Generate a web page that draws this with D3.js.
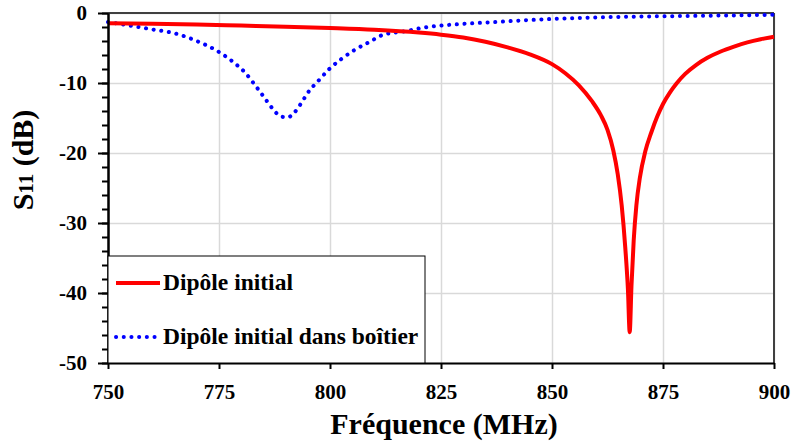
<!DOCTYPE html>
<html>
<head>
<meta charset="utf-8">
<script src="https://cdn.jsdelivr.net/npm/d3@7"></script>
<style>
  body { margin: 0; background: #fff; }
  .grid line { stroke: #d9d9d9; stroke-width: 1.5; }
  .grid path { display: none; }
  .axis path, .axis line { stroke: #000; stroke-width: 2; }
</style>
</head>
<body>
<script>
// Dipôle initial (red)
var freqDipole = [750, 760, 770, 780, 790, 800, 810, 820, 825, 830, 835, 840, 845, 850, 853, 856, 859, 861, 862.5, 863.8, 864.8, 865.7, 866.5, 867.1, 867.5, 867.9, 868.4, 869, 869.8, 871, 872.4, 873.7, 875, 876.5, 878, 880, 882.5, 885, 888, 891, 894, 897, 900];
var s11Dipole = [-1.45, -1.55, -1.65, -1.8, -1.95, -2.15, -2.4, -2.8, -3.1, -3.5, -4.1, -4.9, -5.9, -7.3, -8.6, -10.3, -12.6, -14.6, -16.7, -19.6, -23, -27.5, -33.5, -39.5, -45.6, -39, -32.5, -27.5, -23.5, -19.8, -17, -14.8, -13, -11.4, -10.1, -8.7, -7.4, -6.4, -5.5, -4.8, -4.2, -3.75, -3.4];

// Dipôle initial dans boîtier (blue dotted)
var freqBoitier = [750, 755, 760, 765, 770, 774, 778, 781, 783, 785, 787, 789, 790.5, 792, 793.5, 795, 797.5, 800, 802.5, 805.5, 809, 812, 817, 821, 825, 830, 837, 845, 850, 862, 877, 890, 900];
var s11Boitier = [-1.3, -1.8, -2.35, -2.9, -4.0, -5.2, -6.9, -8.6, -10.2, -11.9, -13.6, -14.8, -14.9, -14.2, -12.9, -11.4, -9.6, -7.9, -6.6, -5.3, -4.1, -3.1, -2.6, -2.1, -1.8, -1.55, -1.3, -1.0, -0.85, -0.6, -0.45, -0.35, -0.25];

var xTicks = [750, 775, 800, 825, 850, 875, 900];
var yTicks = [0, -10, -20, -30, -40, -50];
var yMinor = d3.range(0, -51, -2);
var seriesNames = ["Dipôle initial", "Dipôle initial dans boîtier"];

var FONT = "'Liberation Serif'";

var margin = {top: 13, right: 18, bottom: 82, left: 108},
    width = 792 - margin.left - margin.right,
    height = 445 - margin.top - margin.bottom;

var x = d3.scaleLinear().domain([750, 900]).range([0, width]);
var y = d3.scaleLinear().domain([-50, 0]).range([height, 0]);

var svg = d3.select("body")
    .append("svg")
        .attr("width", 792)
        .attr("height", 445)
    .append("g")
        .attr("transform", "translate(" + margin.left + "," + margin.top + ")");

// grid lines
svg.append("g")
    .attr("class", "grid")
    .call(d3.axisBottom(x).tickValues(xTicks).tickSize(height).tickFormat(""));
svg.append("g")
    .attr("class", "grid")
    .call(d3.axisLeft(y).tickValues(yTicks).tickSize(-width).tickFormat(""));

// top and right frame
svg.append("line").attr("x1", 0).attr("x2", width).attr("y1", 0).attr("y2", 0)
    .style("stroke", "#404040").style("stroke-width", 2);
svg.append("line").attr("x1", width).attr("x2", width).attr("y1", 0).attr("y2", height)
    .style("stroke", "#404040").style("stroke-width", 2);

var line = d3.line()
    .x(function(d) { return x(d[0]); })
    .y(function(d) { return y(d[1]); })
    .curve(d3.curveMonotoneX);

var dipole = d3.zip(freqDipole, s11Dipole);
var boitier = d3.zip(freqBoitier, s11Boitier);

svg.append("path")
    .attr("d", line(boitier))
    .style("fill", "none")
    .style("stroke", "#0000ff")
    .style("stroke-width", 4)
    .style("stroke-linecap", "round")
    .style("stroke-dasharray", "0.1 7.6");

svg.append("path")
    .attr("d", line(dipole))
    .style("fill", "none")
    .style("stroke", "#ff0000")
    .style("stroke-width", 4)
    .style("stroke-linejoin", "round");

// axes
var xAxis = svg.append("g")
    .attr("class", "axis")
    .attr("transform", "translate(0," + height + ")")
    .call(d3.axisBottom(x).tickValues(xTicks).tickSize(6).tickSizeOuter(0).tickPadding(15));
xAxis.selectAll("text").style("font-size", "21px");

svg.append("g")
    .attr("class", "axis")
    .call(d3.axisLeft(y).tickValues(yMinor).tickSize(6).tickSizeOuter(0).tickFormat(""));

var yAxis = svg.append("g")
    .attr("class", "axis")
    .call(d3.axisLeft(y).tickValues(yTicks).tickSize(10).tickSizeOuter(0).tickPadding(11)
        .tickFormat(function(d) { return String(d); }));
yAxis.selectAll("text").style("font-size", "21px");

// axis titles
svg.append("text")
    .attr("x", width / 2 + 3)
    .attr("y", height + 71)
    .attr("text-anchor", "middle")
    .style("font-size", "30px")
    .text("Fréquence (MHz)");

var yt = svg.append("text")
    .attr("transform", "translate(" + (-75) + "," + (height / 2 - 28) + ") rotate(-90)")
    .attr("text-anchor", "middle")
    .style("font-size", "30px");
yt.append("tspan").text("S");
yt.append("tspan").style("font-size", "21px").text("11");
yt.append("tspan").text(" (dB)");

// legend
var legend = svg.append("g").attr("transform", "translate(0," + (height - 107) + ")");
legend.append("rect")
    .attr("x", 0).attr("y", 0)
    .attr("width", 317).attr("height", 107)
    .style("fill", "#fff")
    .style("stroke", "#000")
    .style("stroke-width", 1);

legend.append("line")
    .attr("x1", 8).attr("x2", 52).attr("y1", 27).attr("y2", 27)
    .style("stroke", "#ff0000").style("stroke-width", 4);
legend.append("line")
    .attr("x1", 8).attr("x2", 51).attr("y1", 81).attr("y2", 81)
    .style("stroke", "#0000ff").style("stroke-width", 4)
    .style("stroke-linecap", "round").style("stroke-dasharray", "0.1 7.6");

legend.selectAll("text.legend")
    .data(seriesNames)
    .enter().append("text")
    .attr("class", "legend")
    .attr("x", 55)
    .attr("y", function(d, i) { return 34 + i * 54; })
    .style("font-size", "23.5px")
    .text(function(d) { return d; });

// Times-like bold text everywhere
d3.selectAll("text")
    .style("font-family", FONT)
    .style("font-weight", "bold")
    .style("fill", "#000");
</script>
</body>
</html>
